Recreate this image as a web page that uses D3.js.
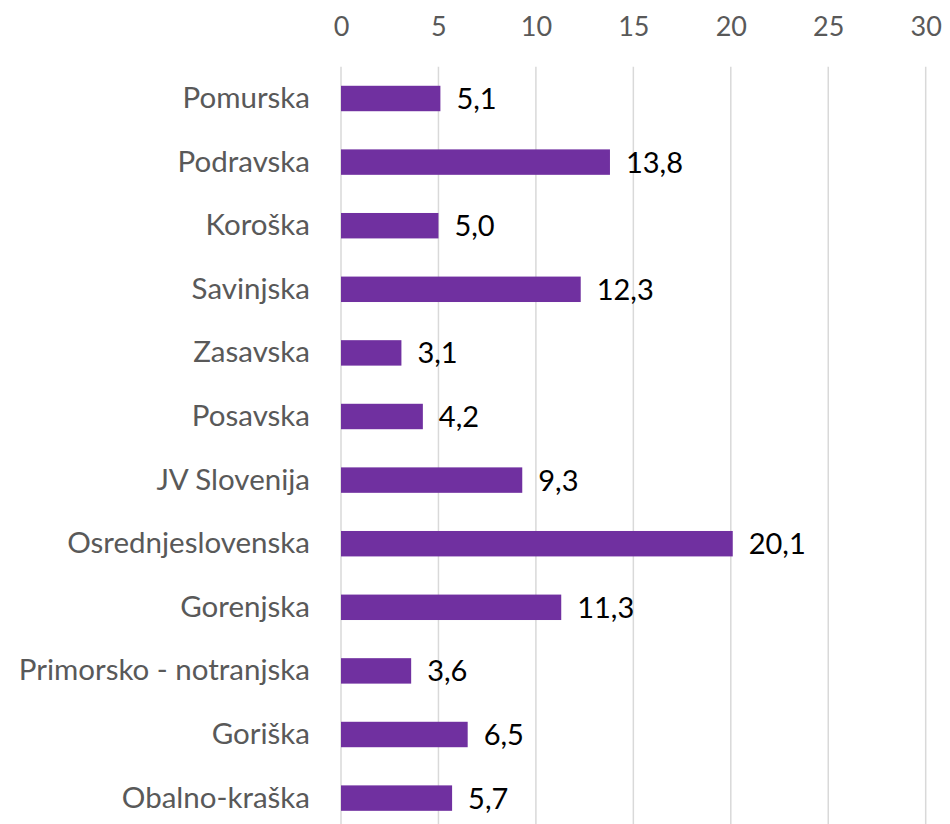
<!DOCTYPE html>
<html><head><meta charset="utf-8">
<script src="https://cdn.jsdelivr.net/npm/d3@7"></script>
<style>body{margin:0;background:#fff;} svg{display:block;}</style>
</head><body>
<svg id="c" width="950" height="824"></svg>
<script>
const categories = ["Pomurska","Podravska","Koroška","Savinjska","Zasavska","Posavska","JV Slovenija","Osrednjeslovenska","Gorenjska","Primorsko - notranjska","Goriška","Obalno-kraška"];
const values = [5.1,13.8,5.0,12.3,3.1,4.2,9.3,20.1,11.3,3.6,6.5,5.7];
const ticks = [0,5,10,15,20,25,30];

const svg = d3.select("#c");
const font = "Lato, 'Open Sans', sans-serif";
const x = d3.scaleLinear().domain([0,30]).range([341,925.7]);
const y = d3.scaleBand().domain(categories).range([66.7, 66.7+12*63.6]).paddingInner(0.6).paddingOuter(0.3);

// gridlines
svg.append("g").selectAll("line").data(ticks).join("line")
  .attr("x1",d=>x(d)).attr("x2",d=>x(d)).attr("y1",66.7).attr("y2",824)
  .attr("stroke","#d9d9d9").attr("stroke-width",1.5);

// top axis labels
const ax = svg.append("g").attr("transform","translate(0,35.5)")
  .call(d3.axisTop(x).tickValues(ticks).tickSize(0).tickPadding(0));
ax.select(".domain").remove();
ax.selectAll("text").attr("font-family",font).attr("font-size",27).attr("fill","#595959");

// bars
svg.append("g").selectAll("rect").data(values).join("rect")
  .attr("x",x(0)).attr("y",(d,i)=>y(categories[i]))
  .attr("width",d=>x(d)-x(0)).attr("height",y.bandwidth())
  .attr("fill","#7030A0");

// category labels
const ay = svg.append("g").attr("transform","translate(310,0)")
  .call(d3.axisLeft(y).tickSize(0).tickPadding(0));
ay.select(".domain").remove();
ay.selectAll("text").attr("font-family",font).attr("font-size",29.5).attr("fill","#595959");

// value labels
const fmt = d3.formatLocale({decimal:",",thousands:".",grouping:[3],currency:["","€"]}).format(".1f");
svg.append("g").selectAll("text").data(values).join("text")
  .attr("x",d=>x(d)+16).attr("y",(d,i)=>y(categories[i])+y.bandwidth()/2)
  .attr("dy","0.36em").attr("font-family",font).attr("font-size",29).attr("fill","#000")
  .text(d=>fmt(d));
</script>
</body></html>
